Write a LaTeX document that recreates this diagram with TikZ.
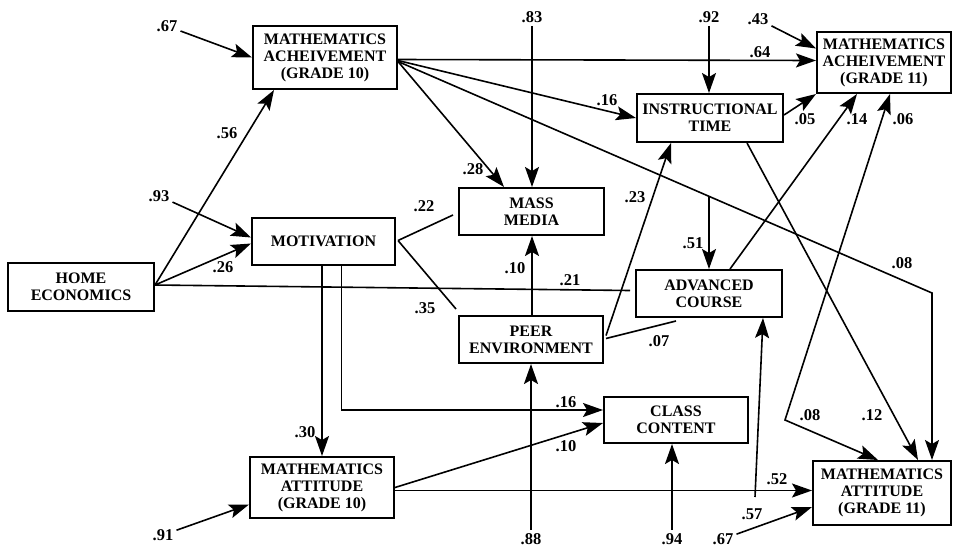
\documentclass[tikz,border=0pt]{standalone}
\usepackage{fontspec}
\setmainfont{Liberation Serif}
\usetikzlibrary{arrows.meta,calc}
\begin{document}
\begin{tikzpicture}[x=1pt,y=-1pt,
  box/.style={draw, line width=2pt, inner sep=0pt, align=center,
    font=\bfseries\fontsize{16}{17}\selectfont},
  conn/.style={line width=1.6pt},
  arr/.style={conn, -{Stealth[length=20pt,width=14pt,inset=4pt]}},
  darr/.style={conn, {Stealth[length=20pt,width=14pt,inset=4pt]}-{Stealth[length=20pt,width=14pt,inset=4pt]}},
  lbl/.style={font=\bfseries\fontsize{16.5}{16.5}\selectfont, inner sep=3pt}]
\useasboundingbox (0,0) rectangle (953,550);

% boxes
\node[box, minimum width=146pt, minimum height=48pt] (home) at (81,287) {HOME\\ECONOMICS};
\node[box, minimum width=144pt, minimum height=63pt] (ma10) at (325,57.5) {MATHEMATICS\\ACHEIVEMENT\\(GRADE 10)};
\node[box, minimum width=143pt, minimum height=47pt] (mot) at (323.5,241.5) {MOTIVATION};
\node[box, minimum width=144pt, minimum height=61pt] (matt10) at (322,487.5) {MATHEMATICS\\ATTITUDE\\(GRADE 10)};
\node[box, minimum width=145pt, minimum height=47pt] (mm) at (531.5,211.5) {MASS\\MEDIA};
\node[box, minimum width=144pt, minimum height=47pt] (peer) at (531,339.5) {PEER\\ENVIRONMENT};
\node[box, minimum width=146pt, minimum height=48pt] (it) at (710,118) {INSTRUCTIONAL\\TIME};
\node[box, minimum width=146pt, minimum height=47pt] (ac) at (709,293.5) {ADVANCED\\COURSE};
\node[box, minimum width=144pt, minimum height=46pt] (cc) at (676,420) {CLASS\\CONTENT};
\node[box, minimum width=134pt, minimum height=61pt] (ma11) at (884,62.5) {MATHEMATICS\\ACHEIVEMENT\\(GRADE 11)};
\node[box, minimum width=138pt, minimum height=64pt] (matt11) at (882,493) {MATHEMATICS\\ATTITUDE\\(GRADE 11)};

% labels that are free ends
\node[lbl] (l67a) at (167,26) {.67};
\node[lbl] (l93) at (159,196) {.93};
\node[lbl] (l91) at (163,535) {.91};
\node[lbl] (l83) at (532,17) {.83};
\node[lbl] (l92) at (709,17) {.92};
\node[lbl] (l43) at (758,19) {.43};
\node[lbl] (l88) at (531,539) {.88};
\node[lbl] (l94) at (672,539) {.94};
\node[lbl] (l67b) at (723,539) {.67};

% other labels
\node[lbl] at (227,133) {.56};
\node[lbl] at (223,267) {.26};
\node[lbl] at (424,206) {.22};
\node[lbl] at (473,169) {.28};
\node[lbl] at (305,432) {.30};
\node[lbl] at (425,308) {.35};
\node[lbl] at (760,52) {.64};
\node[lbl] at (607,100) {.16};
\node[lbl] at (805,119) {.05};
\node[lbl] at (857,119) {.14};
\node[lbl] at (903,119) {.06};
\node[lbl] at (635,197) {.23};
\node[lbl] at (693,243) {.51};
\node[lbl] at (515,268) {.10};
\node[lbl] at (570,280) {.21};
\node[lbl] at (902,263) {.08};
\node[lbl] at (659,341) {.07};
\node[lbl] at (566,402) {.16};
\node[lbl] at (566,446) {.10};
\node[lbl] at (810,415) {.08};
\node[lbl] at (872,415) {.12};
\node[lbl] at (777,479) {.52};
\node[lbl] at (752,514) {.57};

% helper coordinates
\coordinate (hs) at ($(home.east)+(0,-2)$);
\coordinate (c08) at (932,293);
\coordinate (c51) at (709,197);
\coordinate (c06) at (785,420);
\coordinate (c57) at (755,497);

% connectors
\draw[arr] (l67a) -- (ma10.west);
\draw[arr] (hs) -- ($(ma10.south west)+(22,0)$);
\draw[arr] (l93) -- ($(mot.west)+(0,-4)$);
\draw[arr] (hs) -- ($(mot.west)+(0,2)$);
\draw[conn] (hs) -- ($(ac.west)+(-5,-3)$);
\draw[conn] ($(mot.east)+(2,-1)$) -- ($(mm.west)+(-5,3.5)$);
\draw[conn] ($(mot.east)+(2,-1)$) -- ($(peer.north west)+(-2,-6)$);
\draw[arr] (matt10.north |- mot.south) -- (matt10.north);
\draw[arr] ($(mot.south)+(18,0)$) |- ($(cc.west)+(0,-10)$);
\draw[arr] ($(ma10.east)+(0,2)$) -- ($(ma11.west)+(0,-2)$);
\draw[arr] ($(ma10.east)+(0,3)$) -- (it.west);
\draw[arr] ($(ma10.east)+(0,4)$) -- ($(mm.north west)+(46,0)$);
\draw[arr] ($(ma10.east)+(0,4)$) -- (c08) -- (c08 |- matt11.north);
\draw[arr] (l83) -- (l83 |- mm.north);
\draw[arr] (l92) -- (l92 |- it.north);
\draw[arr] (l43) -- ($(ma11.west)+(0,-14)$);
\draw[arr] ($(it.east)+(0,-3)$) -- (ma11.south west);
\draw[arr] (c51) -- (c51 |- ac.north);
\draw[arr] ($(it.south)+(37,0)$) -- ($(matt11.north)+(36,0)$);
\draw[arr] ($(ac.north)+(21,0)$) -- ($(ma11.south)+(-27,0)$);
\draw[darr] ($(ma11.south)+(6,0)$) -- (c06) -- ($(matt11.north)+(-4,0)$);
\draw[arr] (l83 |- peer.north) -- (l83 |- mm.south);
\draw[arr] (l88) -- (l88 |- peer.south);
\draw[arr] ($(peer.east)+(2,-4)$) -- ($(it.south west)+(35,0)$);
\draw[conn] ($(peer.east)+(2,-1)$) -- ($(ac.south west)+(41,3)$);
\draw[arr] (matt10.east) -- ($(cc.west)+(0,3)$);
\draw[arr] ($(matt10.east)+(0,3)$) -- ($(matt11.west)+(0,-2.5)$);
\draw[arr] (l94) -- (l94 |- cc.south);
\draw[arr] (c57) -- ($(ac.south)+(54,0)$);
\draw[arr] (l67b) -- ($(matt11.west)+(0,14)$);
\draw[arr] (l91) -- ($(matt10.west)+(0,17)$);
\end{tikzpicture}
\end{document}
